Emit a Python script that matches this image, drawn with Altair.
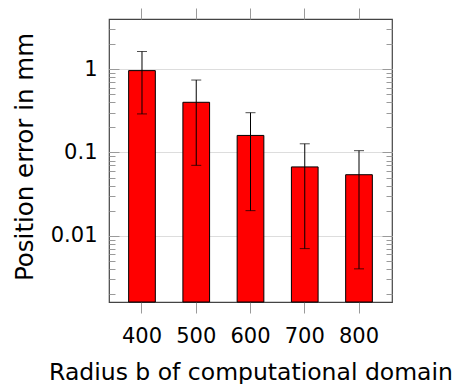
import altair as alt
import pandas as pd

# ---- data ----
radius = [400, 500, 600, 700, 800]
error = [0.96, 0.40, 0.16, 0.067, 0.054]
err_low = [0.29, 0.07, 0.020, 0.007, 0.004]
err_high = [1.63, 0.74, 0.30, 0.127, 0.105]
y_major = [0.01, 0.1, 1]
y_minor = [0.002, 0.003, 0.004, 0.005, 0.006, 0.007, 0.008, 0.009,
           0.02, 0.03, 0.04, 0.05, 0.06, 0.07, 0.08, 0.09,
           0.2, 0.3, 0.4, 0.5, 0.6, 0.7, 0.8, 0.9, 2, 3]
y_domain = [0.0016, 4.0]

x_title = "Radius b of computational domain"
y_title = "Position error in mm"

df = pd.DataFrame({"radius": radius, "error": error, "lo": err_low, "hi": err_high})

FONT = "DejaVu Sans"
W, H = 283, 283
TICK = "#9a9a9a"

xscale = alt.Scale(paddingInner=0.508, paddingOuter=0.362)
yscale = alt.Scale(type="log", domain=y_domain, nice=False)

base = alt.Chart(df)

bars = base.mark_bar(color="#ff0000", stroke="#000000", strokeWidth=1).encode(
    x=alt.X("radius:O", scale=xscale,
            axis=alt.Axis(orient="bottom", title=x_title, labelAngle=0, domain=False,
                          tickSize=11, tickColor=TICK, labelFontSize=21,
                          labelPadding=29, labelBaseline="alphabetic",
                          titleFontSize=23.5, titleY=77, titleBaseline="alphabetic",
                          grid=False)),
    y=alt.Y("error:Q", scale=yscale,
            axis=alt.Axis(orient="left", values=y_major, format="~g", grid=True,
                          gridColor="#dddddd", tickSize=alt.ExprRef("-10"),
                          tickColor=TICK, domain=False, labelFontSize=21,
                          labelPadding=22, title=y_title, titleFontSize=24.5,
                          titleX=-77, titleY=137.5, titleAngle=-90,
                          titleAlign="center", titleBaseline="alphabetic")),
    y2=alt.Y2(datum=y_domain[0]),
)

rules = base.mark_rule(color="#000000", strokeWidth=1).encode(
    x=alt.X("radius:O", scale=xscale,
            axis=alt.Axis(orient="top", labels=False, title=None, domain=False,
                          tickSize=11, tickColor=TICK, grid=False)),
    y=alt.Y("lo:Q", scale=yscale,
            axis=alt.Axis(orient="right", values=y_major, labels=False, title=None,
                          grid=False, domain=False, tickSize=alt.ExprRef("-10"),
                          tickColor=TICK)),
    y2="hi:Q",
)

cap_hi = base.mark_tick(color="#000000", size=10, thickness=1).encode(
    x=alt.X("radius:O", scale=xscale, axis=None),
    y=alt.Y("hi:Q", scale=yscale,
            axis=alt.Axis(orient="left", values=y_minor, labels=False, title=None,
                          grid=False, domain=False, tickSize=alt.ExprRef("-6"),
                          tickColor=TICK)),
)

cap_lo = base.mark_tick(color="#000000", size=10, thickness=1).encode(
    x=alt.X("radius:O", scale=xscale, axis=None),
    y=alt.Y("lo:Q", scale=yscale,
            axis=alt.Axis(orient="right", values=y_minor, labels=False, title=None,
                          grid=False, domain=False, tickSize=alt.ExprRef("-6"),
                          tickColor=TICK)),
)

chart = alt.layer(bars, rules, cap_hi, cap_lo).resolve_axis(
    x="independent", y="independent"
).properties(
    width=W, height=H,
    autosize=alt.AutoSizeParams(type="none"),
    padding={"left": 101, "top": 11, "right": 62, "bottom": 82},
).configure_view(
    stroke="#444444", strokeWidth=1.2
).configure_axis(
    labelFont=FONT, titleFont=FONT, labelColor="#000000", titleColor="#000000",
    titleFontWeight="normal", tickWidth=1, gridWidth=1,
)

chart.save("out.html", embed_options={"renderer": "svg", "actions": False})
